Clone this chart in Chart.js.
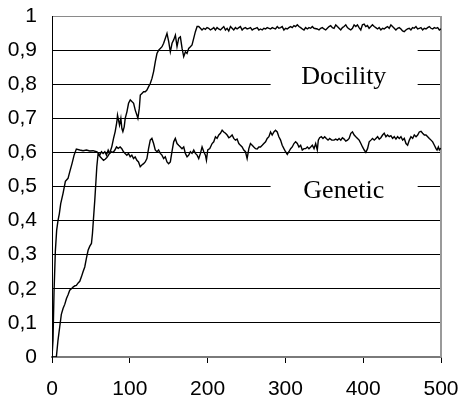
<!DOCTYPE html>
<html><head><meta charset="utf-8">
<script src="https://cdn.jsdelivr.net/npm/chart.js@4.4.0/dist/chart.umd.min.js"></script>
<style>html,body{margin:0;padding:0;background:#fff;}#wrap{width:458px;height:399px;}</style>
</head><body><div id="wrap"><canvas id="c" width="458" height="399"></canvas></div>
<script>
const xTicks = [0,100,200,300,400,500];
const yTicks = [0,0.1,0.2,0.3,0.4,0.5,0.6,0.7,0.8,0.9,1];
const seriesNames = ["Docility","Genetic"];

const geneticX = [0,1.3,2.6,4.3,6.0,7.7,9.4,11.2,14.2,17.2,20.6,22.8,25.8,28.4,31.3,35.7,39.9,44.3,48.5,52.8,57.1,59.3,61.4,63.6,65.7,67.9,70.0,72.2,74.3,76.5,78.6,80.8,82.9,85.1,
87.6,89.7,91.9,94.0,96.2,98.3,100.5,102.6,104.8,106.9,109.1,111.2,113.4,115.5,117.7,119.8,122.0,124.1,126.3,128.4,130.6,132.7,134.9,137.0,139.2,141.3,143.5,145.6,147.8,149.9,152.1,154.2,156.4,158.5,160.7,162.8,165.0,167.1,169.3,171.4,173.6,175.7,177.9,180.0,182.2,184.3,186.5,188.6,190.8,192.9,195.1,197.2,198.5,200.2,202.8,205.8,207.9,210.1,212.2,214.4,216.5,218.7,220.8,223.0,225.1,227.3,
229.3,231.5,233.6,235.8,237.9,240.1,242.2,244.4,246.5,248.7,250.8,253.0,255.1,257.3,259.4,261.6,263.7,265.9,268.0,270.2,272.3,274.5,276.6,278.8,280.9,283.0,285.2,287.3,289.5,291.6,293.8,295.9,298.1,300.2,302.4,304.5,306.7,308.8,311.0,313.1,315.3,317.4,319.6,321.7,323.9,326.0,328.2,330.3,332.5,334.6,336.8,338.9,341.0,342.3,344.0,346.2,348.3,350.5,352.6,354.8,356.9,359.5,362.5,364.7,
366.9,369.0,371.2,373.3,375.5,377.6,379.8,381.9,384.1,386.2,388.4,390.5,392.7,394.8,397.0,399.1,401.3,403.4,405.6,407.7,409.9,412.0,414.2,416.3,418.5,420.6,422.7,424.9,427.0,429.2,431.3,433.5,435.6,437.8,439.9,442.1,444.2,446.4,448.5,450.7,452.8,455.0,457.1,459.3,461.4,463.6,465.7,467.9,470.0,472.1,474.3,476.4,478.6,480.7,482.9,485.0,487.2,489.3,491.5,493.6,494.9,496.6,497.9,499.2,500];
const geneticY = [0,0.05,0.19,0.31,0.372,0.40,0.42,0.45,0.48,0.515,0.524,0.543,0.568,0.592,0.610,0.607,0.605,0.607,0.604,0.605,0.602,0.599,0.592,0.602,0.597,0.602,0.592,0.607,0.597,0.602,0.600,0.607,0.616,0.612,
0.616,0.611,0.602,0.597,0.592,0.597,0.587,0.592,0.582,0.587,0.577,0.572,0.558,0.563,0.567,0.572,0.582,0.611,0.636,0.641,0.626,0.607,0.602,0.607,0.597,0.592,0.582,0.587,0.572,0.567,0.572,0.602,0.631,0.641,0.626,0.621,0.616,0.611,0.616,0.597,0.587,0.592,0.602,0.597,0.607,0.597,0.592,0.582,0.597,0.616,0.602,0.592,0.577,0.607,0.611,0.626,0.631,0.646,0.641,0.651,0.656,0.665,0.660,0.656,0.651,0.643,
0.646,0.651,0.641,0.636,0.639,0.626,0.621,0.616,0.607,0.602,0.582,0.611,0.626,0.621,0.616,0.611,0.610,0.616,0.616,0.621,0.626,0.631,0.641,0.646,0.660,0.651,0.660,0.665,0.660,0.646,0.636,0.621,0.611,0.602,0.594,0.602,0.611,0.616,0.626,0.631,0.626,0.616,0.621,0.607,0.611,0.611,0.616,0.611,0.616,0.621,0.611,0.626,0.607,0.636,0.643,0.646,0.641,0.646,0.641,0.636,0.641,0.636,0.636,0.639,
0.636,0.641,0.636,0.643,0.639,0.633,0.636,0.641,0.656,0.660,0.651,0.646,0.641,0.636,0.626,0.616,0.607,0.600,0.611,0.631,0.636,0.641,0.636,0.641,0.646,0.639,0.643,0.651,0.656,0.646,0.651,0.646,0.649,0.641,0.646,0.639,0.646,0.641,0.646,0.636,0.641,0.626,0.621,0.636,0.646,0.641,0.651,0.646,0.651,0.660,0.662,0.656,0.651,0.651,0.646,0.641,0.636,0.631,0.621,0.611,0.607,0.616,0.607,0.611,0.610];

const docilityX = [0,5.6,7.7,9.9,12.0,14.2,16.5,18.5,20.8,22.8,25.3,27.1,29.6,31.3,33.9,35.7,37.8,39.9,42.1,44.2,46.4,48.6,50.7,52.0,53.3,55.0,56.3,57.6,59.3,61.9,64.0,66.2,68.3,70.5,72.6,74.8,
76.9,79.1,81.2,83.4,84.2,85.5,86.8,88.5,89.8,91.1,92.8,94.1,96.3,98.4,100.6,102.7,104.9,107.0,109.2,110.4,112.2,113.5,115.6,117.7,119.9,122.0,124.2,126.3,128.5,130.6,132.8,134.9,137.1,139.2,141.4,143.5,145.7,147.8,150.0,152.1,154.3,156.4,158.6,160.7,162.9,165.0,167.2,169.3,171.5,173.6,175.7,177.9,180.0,182.2,184.3,186.5,188.6,190.8,
192.8,195.0,197.1,199.3,201.4,203.6,205.7,207.9,210.0,212.2,214.3,216.5,218.6,220.8,222.9,225.1,227.2,229.4,231.5,233.6,235.8,237.9,240.1,242.2,244.4,246.5,248.7,250.8,253.0,255.1,257.3,259.4,261.6,263.7,265.9,268.0,270.2,272.3,274.5,276.6,278.8,280.9,283.1,285.2,287.3,289.5,291.6,293.8,295.9,298.1,300.2,302.4,304.5,306.7,308.8,311.0,313.1,315.3,317.4,319.6,321.7,323.9,326.0,328.2,330.3,332.5,334.6,336.8,
341.0,343.2,345.3,347.5,349.6,351.8,353.9,356.1,358.2,360.4,362.5,364.7,366.8,369.0,371.1,373.3,375.4,377.6,379.7,381.9,384.0,386.2,388.3,390.5,392.6,394.7,396.9,399.0,401.2,403.3,405.5,407.6,409.8,411.9,414.1,416.2,418.4,420.5,422.7,424.8,427.0,429.1,431.3,433.4,435.6,437.7,439.9,442.0,444.2,446.3,448.5,450.6,452.7,454.9,457.0,459.2,461.3,463.5,465.6,467.8,469.9,472.1,474.2,476.4,478.5,480.7,482.8,485.0,487.1,489.3,491.4,493.6,495.7,497.9,500];
const docilityY = [0,0,0.049,0.088,0.125,0.142,0.155,0.171,0.183,0.196,0.201,0.205,0.209,0.210,0.218,0.222,0.235,0.250,0.264,0.289,0.313,0.325,0.333,0.362,0.405,0.460,0.509,0.558,0.597,0.587,0.582,0.577,0.580,0.585,0.592,0.602,
0.617,0.641,0.661,0.690,0.709,0.695,0.680,0.700,0.670,0.661,0.675,0.700,0.719,0.744,0.754,0.749,0.744,0.724,0.709,0.700,0.729,0.768,0.773,0.778,0.778,0.783,0.793,0.802,0.817,0.837,0.866,0.890,0.900,0.905,0.910,0.920,0.935,0.949,0.925,0.895,0.920,0.930,0.944,0.910,0.935,0.939,0.905,0.881,0.895,0.890,0.905,0.910,0.915,0.935,0.954,0.969,0.969,0.964,
0.959,0.964,0.961,0.966,0.964,0.959,0.962,0.966,0.959,0.966,0.962,0.959,0.964,0.969,0.959,0.964,0.956,0.969,0.964,0.959,0.966,0.962,0.966,0.969,0.959,0.964,0.966,0.962,0.964,0.966,0.959,0.962,0.964,0.966,0.959,0.962,0.959,0.964,0.962,0.966,0.964,0.962,0.966,0.964,0.962,0.969,0.964,0.966,0.969,0.959,0.964,0.962,0.966,0.969,0.966,0.972,0.969,0.974,0.969,0.966,0.962,0.959,0.966,0.962,0.966,0.964,0.969,0.964,
0.962,0.959,0.964,0.966,0.962,0.959,0.964,0.969,0.972,0.966,0.964,0.974,0.969,0.964,0.959,0.966,0.969,0.974,0.966,0.962,0.959,0.964,0.974,0.969,0.974,0.966,0.959,0.974,0.976,0.969,0.972,0.964,0.969,0.974,0.969,0.966,0.962,0.966,0.959,0.964,0.962,0.966,0.969,0.964,0.974,0.969,0.964,0.959,0.964,0.966,0.962,0.956,0.954,0.959,0.962,0.964,0.959,0.966,0.964,0.969,0.962,0.964,0.966,0.959,0.964,0.962,0.966,0.969,0.964,0.962,0.966,0.964,0.966,0.959,0.962];

const toPts = (xs, ys) => xs.map((x, i) => ({x: x, y: ys[i]}));

const labelPlugin = {
  id: 'labels',
  beforeDatasetsDraw(chart) {
    const ctx = chart.ctx, xs = chart.scales.x, ys = chart.scales.y, ca = chart.chartArea;
    ctx.save();
    ctx.strokeStyle = '#9a9a9a'; ctx.lineWidth = 2;
    ctx.beginPath(); ctx.moveTo(ca.right, ca.top); ctx.lineTo(ca.right, ca.bottom); ctx.stroke();
    const boxes = [[0.93, 0.75], [0.55, 0.43]];
    const baselines = [0.802, 0.465];
    ctx.fillStyle = '#fff';
    const x0 = xs.getPixelForValue(281), x1 = xs.getPixelForValue(470);
    boxes.forEach(b => {
      const y0 = ys.getPixelForValue(b[0]), y1 = ys.getPixelForValue(b[1]);
      ctx.fillRect(x0, y0, x1 - x0, y1 - y0);
    });
    ctx.fillStyle = '#000';
    ctx.font = '26px "Liberation Serif", "Times New Roman", serif';
    ctx.textAlign = 'center'; ctx.textBaseline = 'alphabetic';
    seriesNames.forEach((n, i) => {
      ctx.fillText(n, xs.getPixelForValue(375), ys.getPixelForValue(baselines[i]));
    });
    ctx.restore();
  }
};

const fmt = v => {
  if (Math.abs(v) < 1e-9) return '0';
  if (Math.abs(v - 1) < 1e-9) return '1';
  return v.toFixed(1).replace('.', ',');
};

new Chart(document.getElementById('c'), {
  type: 'line',
  data: {
    datasets: [
      {label: seriesNames[0], data: toPts(docilityX, docilityY), borderColor: '#000', borderWidth: 1.4, pointRadius: 0, tension: 0, fill: false},
      {label: seriesNames[1], data: toPts(geneticX, geneticY), borderColor: '#000', borderWidth: 1.4, pointRadius: 0, tension: 0, fill: false}
    ]
  },
  options: {
    responsive: false,
    animation: false,
    devicePixelRatio: 1,
    layout: {padding: {top: 16, right: 17, left: 0, bottom: 0}},
    plugins: {legend: {display: false}, tooltip: {enabled: false}},
    scales: {
      x: {
        type: 'linear', min: 0, max: 500,
        afterBuildTicks: s => { s.ticks = xTicks.map(v => ({value: v})); },
        afterFit: s => { s.height = 42; s.paddingLeft = 0; s.paddingRight = 0; },
        ticks: {color: '#000', font: {family: '"Liberation Sans", Arial, sans-serif', size: 21}, padding: 14, maxRotation: 0},
        grid: {drawOnChartArea: false, drawTicks: true, tickLength: 6, color: '#000', tickColor: '#000'},
        border: {display: true, color: '#7a7a7a', width: 2}
      },
      y: {
        type: 'linear', min: 0, max: 1,
        afterBuildTicks: s => { s.ticks = yTicks.map(v => ({value: v})); },
        afterFit: s => { s.width = 52; s.paddingTop = 0; s.paddingBottom = 0; },
        ticks: {color: '#000', font: {family: '"Liberation Sans", Arial, sans-serif', size: 21}, padding: 15, callback: fmt},
        grid: {drawTicks: false, color: ctx => (ctx.tick && Math.abs(ctx.tick.value - 1) < 1e-9) ? '#8a8a8a' : '#000', lineWidth: 1},
        border: {display: true, color: '#000', width: 1}
      }
    }
  },
  plugins: [labelPlugin]
});
</script>
</body></html>
